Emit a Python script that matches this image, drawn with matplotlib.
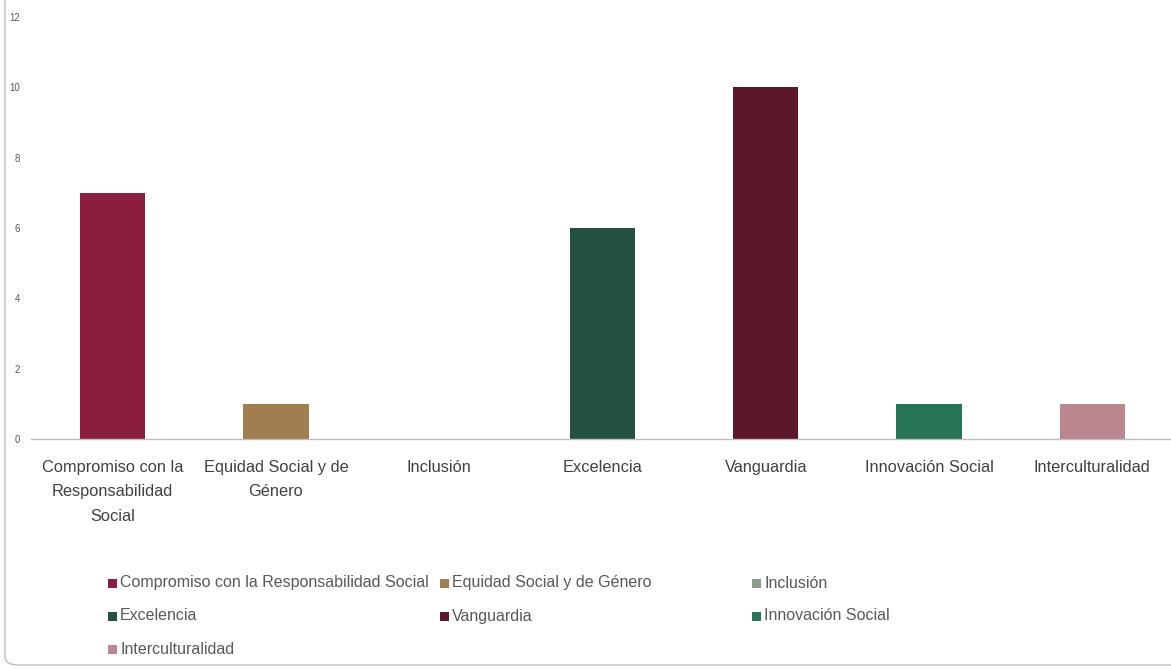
import matplotlib
matplotlib.use("Agg")
import matplotlib.pyplot as plt
from matplotlib.patches import Rectangle, FancyBboxPatch

categories = [
    "Compromiso con la Responsabilidad Social",
    "Equidad Social y de Género",
    "Inclusión",
    "Excelencia",
    "Vanguardia",
    "Innovación Social",
    "Interculturalidad",
]
tick_labels = [
    "Compromiso con la\nResponsabilidad\nSocial",
    "Equidad Social y de\nGénero",
    "Inclusión",
    "Excelencia",
    "Vanguardia",
    "Innovación Social",
    "Interculturalidad",
]
values = [7, 1, 0, 6, 10, 1, 1]
colors = ["#8B1E3F", "#A07E4F", "#8A9A8B", "#235245", "#5C172B", "#277556", "#BC8690"]
y_ticks = [0, 2, 4, 6, 8, 10, 12]

plt.rcParams["font.family"] = ["Liberation Sans", "DejaVu Sans"]

W, H = 1171, 669
fig = plt.figure(figsize=(W / 100, H / 100), dpi=100)

# outer chart frame with rounded corner
frame = FancyBboxPatch((5 / W, 4 / H), 1.2, 1.2, boxstyle="round,pad=0,rounding_size=0.012",
                       transform=fig.transFigure, facecolor="none", edgecolor="#BFBFBF",
                       linewidth=1.0, zorder=-1)
fig.patches.append(frame)

ax_left, ax_right = 31 / W, 1174 / W
ax_bottom, ax_top = 1 - 439 / H, 1 - 17 / H
ax = fig.add_axes([ax_left, ax_bottom, ax_right - ax_left, ax_top - ax_bottom])
ax.set_facecolor("none")

x = list(range(len(categories)))
ax.bar(x, values, width=0.4, color=colors, zorder=2)
ax.set_xlim(-0.5, len(categories) - 0.5)
ax.set_ylim(0, 12)
ax.set_yticks(y_ticks)
ax.set_yticklabels([str(t) for t in y_ticks], fontsize=7, color="#595959")
ax.set_xticks(x)
ax.set_xticklabels(tick_labels, fontsize=11.8, color="#404040", linespacing=1.78)
ax.tick_params(axis="both", length=0)
ax.tick_params(axis="y", pad=8)
ax.tick_params(axis="x", pad=15)
for side in ["top", "right", "left"]:
    ax.spines[side].set_visible(False)
ax.spines["bottom"].set_color("#BFBFBF")
ax.spines["bottom"].set_linewidth(1.0)

# legend laid out row by row in three columns
col_x = [108, 440, 752]
row_y = [583, 616, 649]
for i, (name, c) in enumerate(zip(categories, colors)):
    r, k = divmod(i, 3)
    px, py = col_x[k], row_y[r]
    fig.patches.append(Rectangle((px / W, 1 - (py + 5) / H), 9 / W, 9 / H,
                                 transform=fig.transFigure, facecolor=c, edgecolor="none"))
    fig.text((px + 12) / W, 1 - py / H, name, fontsize=11.5, color="#595959",
             va="center", ha="left")

fig.savefig("out.png", dpi=100, facecolor="white")
